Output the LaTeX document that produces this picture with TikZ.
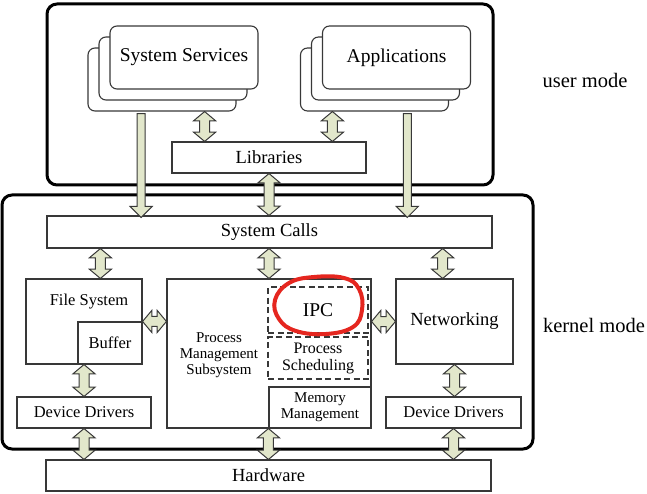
\documentclass[tikz,border=0pt]{standalone}
\usepackage{fontspec}
\setmainfont{Liberation Serif}
\usepackage{tikz}
\usetikzlibrary{shapes,arrows,positioning,calc}

\definecolor{arrowfill}{HTML}{E2E7CB}
\definecolor{lineclr}{HTML}{383838}
\definecolor{ringred}{HTML}{E5261F}

\tikzset{
  box/.style={draw=lineclr, line width=1.1pt, fill=white, inner sep=0pt},
  frame/.style={draw=black, line width=3pt, rounded corners=10pt, inner sep=0pt},
  stack/.style={box, rounded corners=7pt, minimum width=148pt, minimum height=63pt},
  dashbox/.style={draw=lineclr, line width=1.4pt, dash pattern=on 6pt off 3.5pt, inner sep=0pt, align=center},
  fatdbl/.style={double arrow, draw=lineclr, fill=arrowfill, line width=1pt, inner xsep=0pt,
      inner ysep=4.5pt, double arrow head extend=6pt, double arrow tip angle=100},
  fatone/.style={single arrow, draw=lineclr, fill=arrowfill, line width=1pt, inner xsep=0pt,
      inner ysep=3.5pt, single arrow head extend=7pt, single arrow tip angle=90},
  both/.style={to path={let \p1=(\tikztostart), \p2=(\tikztotarget) in
      node[fatdbl, minimum height={veclen(\x2-\x1,\y2-\y1)},
           rotate={atan2(\y2-\y1,\x2-\x1)}] at ($(\p1)!.5!(\p2)$) {}}},
  oneway/.style={to path={let \p1=(\tikztostart), \p2=(\tikztotarget) in
      node[fatone, minimum height={veclen(\x2-\x1,\y2-\y1)},
           rotate={atan2(\y2-\y1,\x2-\x1)}] at ($(\p1)!.5!(\p2)$) {}}},
  big/.style={font=\fontsize{19.5}{22}\selectfont},
  mid/.style={font=\fontsize{16.5}{18}\selectfont},
  small/.style={font=\fontsize{15}{16}\selectfont, align=center}
}

\begin{document}
\begin{tikzpicture}[x=1pt, y=-1pt, font=\fontsize{18.5}{20}\selectfont]
    \useasboundingbox (0,0) rectangle (647,494);

    % mode frames
    \node[frame, minimum width=446pt, minimum height=181pt] (user) at (270,94.5) {};
    \node[frame, minimum width=531pt, minimum height=254pt] (kernel) at (267.5,322) {};
    \node[font=\fontsize{20.5}{22}\selectfont] (usertxt) at (585,80) {user mode};
    \node[font=\fontsize{20.5}{22}\selectfont] (kerneltxt) at (594,325) {kernel mode};

    % user side
    \node[stack] (ss3) at (162,79.5) {};
    \node[stack] (ss2) at (173,68.5) {};
    \node[stack, big] (ss1) at (184,57.5) {System Services};
    \node[stack] (app3) at (374.5,79.5) {};
    \node[stack] (app2) at (385.5,68.5) {};
    \node[stack, big] (app1) at (396.5,57.5) {Applications};
    \node[box, minimum width=194pt, minimum height=31pt] (libs) at (269,157.5) {Libraries};

    % kernel side
    \node[box, minimum width=445pt, minimum height=32pt] (calls) at (269.5,232) {System Calls};
    \node[box, minimum width=116pt, minimum height=85pt] (fs) at (84,321.5) {};
    \node[mid] (fstxt) at (89,302) {File System};
    \node[box, mid, minimum width=64pt, minimum height=42pt] (buffer) at (110,343) {Buffer};
    \node[box, minimum width=204pt, minimum height=149pt] (pm) at (269,353.5) {};
    \node[small] (pmtxt) at (219,355) {Process\\Management\\Subsystem};
    \node[dashbox, big, minimum width=100pt, minimum height=46pt] (ipc) at (318,310) {IPC};
    \node[dashbox, font=\fontsize{16}{17}\selectfont, minimum width=100pt, minimum height=42pt] (sched) at (318,358) {Process\\Scheduling};
    \node[box, small, minimum width=102pt, minimum height=41pt] (mem) at (320,407.5) {Memory\\Management};
    \node[box, minimum width=117pt, minimum height=85pt] (net) at (454.5,321.5) {Networking};
    \node[box, mid, minimum width=134pt, minimum height=31pt] (ddl) at (84,412.5) {Device Drivers};
    \node[box, mid, minimum width=135pt, minimum height=31pt] (ddr) at (453.5,412.5) {Device Drivers};
    \node[box, minimum width=445pt, minimum height=31pt] (hw) at (268.5,475.5) {Hardware};

    % arrows
    \coordinate (sstap) at ($(ss3.south west)!0.36!(ss3.south east)$);
    \coordinate (apptap) at ($(app3.south west)!0.72!(app3.south east)$);
    \path (sstap) to[oneway] (calls.north -| sstap);
    \path (apptap) to[oneway] (calls.north -| apptap);
    \coordinate (libl) at ($(libs.north west)!0.17!(libs.north east)$);
    \coordinate (libr) at ($(libs.north west)!0.825!(libs.north east)$);
    \path (ss3.south -| libl) to[both] (libl);
    \path (app3.south -| libr) to[both] (libr);
    \path (libs.south) to[both] (calls.north -| libs.south);
    \coordinate (fstop) at ($(fs.north west)!0.64!(fs.north east)$);
    \coordinate (nettop) at ($(net.north west)!0.40!(net.north east)$);
    \path (calls.south -| fstop) to[both] (fstop);
    \path (calls.south -| pm.north) to[both] (pm.north);
    \path (calls.south -| nettop) to[both] (nettop);
    \path (buffer.north east) to[both] (pm.west |- buffer.north east);
    \path (pm.east |- net.west) to[both] (net.west);
    \path (fs.south) to[both] (ddl.north);
    \path (net.south) to[both] (ddr.north -| net.south);
    \path (ddl.south) to[both] (hw.north -| ddl.south);
    \path (mem.south west) to[both] (hw.north -| mem.south west);
    \path (ddr.south) to[both] (hw.north -| ddr.south);

    % red mark round IPC
    \draw[ringred, line width=4pt] plot[smooth cycle, tension=0.7] coordinates
        {(275,300) (289,283) (314,277) (344,278) (359,289) (362,310) (353,327) (326,334) (296,331) (279,319)};
\end{tikzpicture}
\end{document}
